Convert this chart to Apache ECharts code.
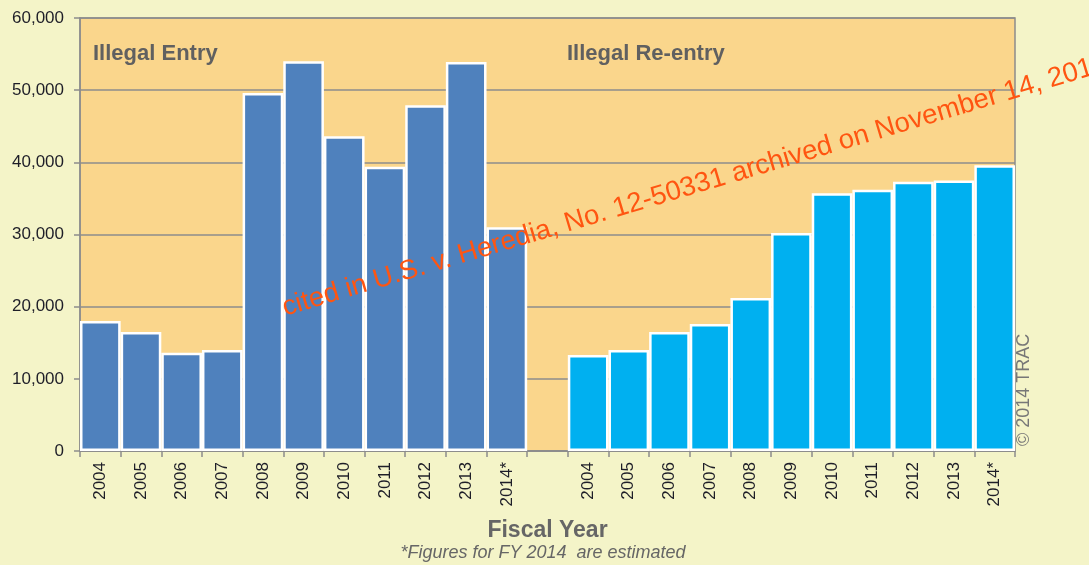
<!DOCTYPE html>
<html>
<head>
<meta charset="utf-8">
<script src="https://cdn.jsdelivr.net/npm/echarts@6/dist/echarts.min.js"></script>
<style>
html,body{margin:0;padding:0;background:#f4f4c8;}
#c{width:1089px;height:565px;}
</style>
</head>
<body>
<div id="c"></div>
<script>
const entryYears = ['2004','2005','2006','2007','2008','2009','2010','2011','2012','2013','2014*'];
const reentryYears = ['2004','2005','2006','2007','2008','2009','2010','2011','2012','2013','2014*'];
const entryValues = [18000,16500,13600,14000,49600,54000,43600,39400,47900,53900,31000];
const reentryValues = [13300,14000,16500,17600,21200,30200,35700,36200,37300,37500,39600];
const yTicks = [0,10000,20000,30000,40000,50000,60000];

const categories = entryYears.concat([''], reentryYears);
const entryData = entryValues.concat(new Array(reentryYears.length + 1).fill(null));
const reentryData = new Array(entryYears.length + 1).fill(null).concat(reentryValues);

const chart = echarts.init(document.getElementById('c'), null, {renderer:'canvas'});
const font = '"Liberation Sans", Arial, sans-serif';
chart.setOption({
  backgroundColor:'#f4f4c8',
  animation:false,
  grid:{left:80,right:74,top:18,bottom:114,show:true,backgroundColor:'#fad68c',borderColor:'#8c8c8c',borderWidth:1.5},
  xAxis:{
    type:'category',data:categories,
    axisLine:{lineStyle:{color:'#8c8c8c',width:1.5}},
    axisTick:{show:true,alignWithLabel:false,length:6,lineStyle:{color:'#8c8c8c',width:1.5}},
    axisLabel:{rotate:90,fontSize:17,color:'#1e1e28',fontFamily:font,margin:11,interval:0},
    name:'Fiscal Year',nameLocation:'middle',nameGap:68,
    nameTextStyle:{fontSize:23,fontWeight:'bold',color:'#666',fontFamily:font}
  },
  yAxis:{
    type:'value',min:yTicks[0],max:yTicks[yTicks.length-1],interval:yTicks[1]-yTicks[0],
    axisLine:{show:true,lineStyle:{color:'#8c8c8c',width:1.5}},
    axisTick:{show:true,length:6,lineStyle:{color:'#8c8c8c',width:1.5}},
    splitLine:{lineStyle:{color:'#8c8c8c',width:1.5}},
    axisLabel:{fontSize:17,color:'#1e1e28',fontFamily:font,margin:16,
      formatter:v=>v.toLocaleString('en-US')}
  },
  series:[
    {type:'bar',data:entryData,barWidth:'100%',barGap:'-100%',barCategoryGap:'0%',
     itemStyle:{color:'#4f81bd',borderColor:'#ffffff',borderWidth:2.5}},
    {type:'bar',data:reentryData,barWidth:'100%',barGap:'-100%',barCategoryGap:'0%',
     itemStyle:{color:'#00b0f0',borderColor:'#ffffff',borderWidth:2.5}}
  ],
  graphic:[
    {type:'text',left:93,top:43,style:{text:'Illegal Entry',font:'bold 22px '+font,fill:'#606060'}},
    {type:'text',left:567,top:43,style:{text:'Illegal Re-entry',font:'bold 22px '+font,fill:'#606060'}},
    {type:'text',x:543,y:553,style:{text:'*Figures for FY 2014  are estimated',font:'italic 18px '+font,fill:'#666',align:'center',verticalAlign:'middle'}},
    {type:'text',x:1024,y:446,rotation:Math.PI/2,style:{text:'\u00a9 2014 TRAC',font:'18px '+font,fill:'#777',align:'left',verticalAlign:'middle'}},
    {type:'text',x:287,y:322,rotation:16.6*Math.PI/180,z:100,style:{text:'cited in U.S. v. Heredia, No. 12-50331 archived on November 14, 2014',font:'27.5px '+font,fill:'#ff5511',align:'left',verticalAlign:'bottom'}}
  ]
});
</script>
</body>
</html>
